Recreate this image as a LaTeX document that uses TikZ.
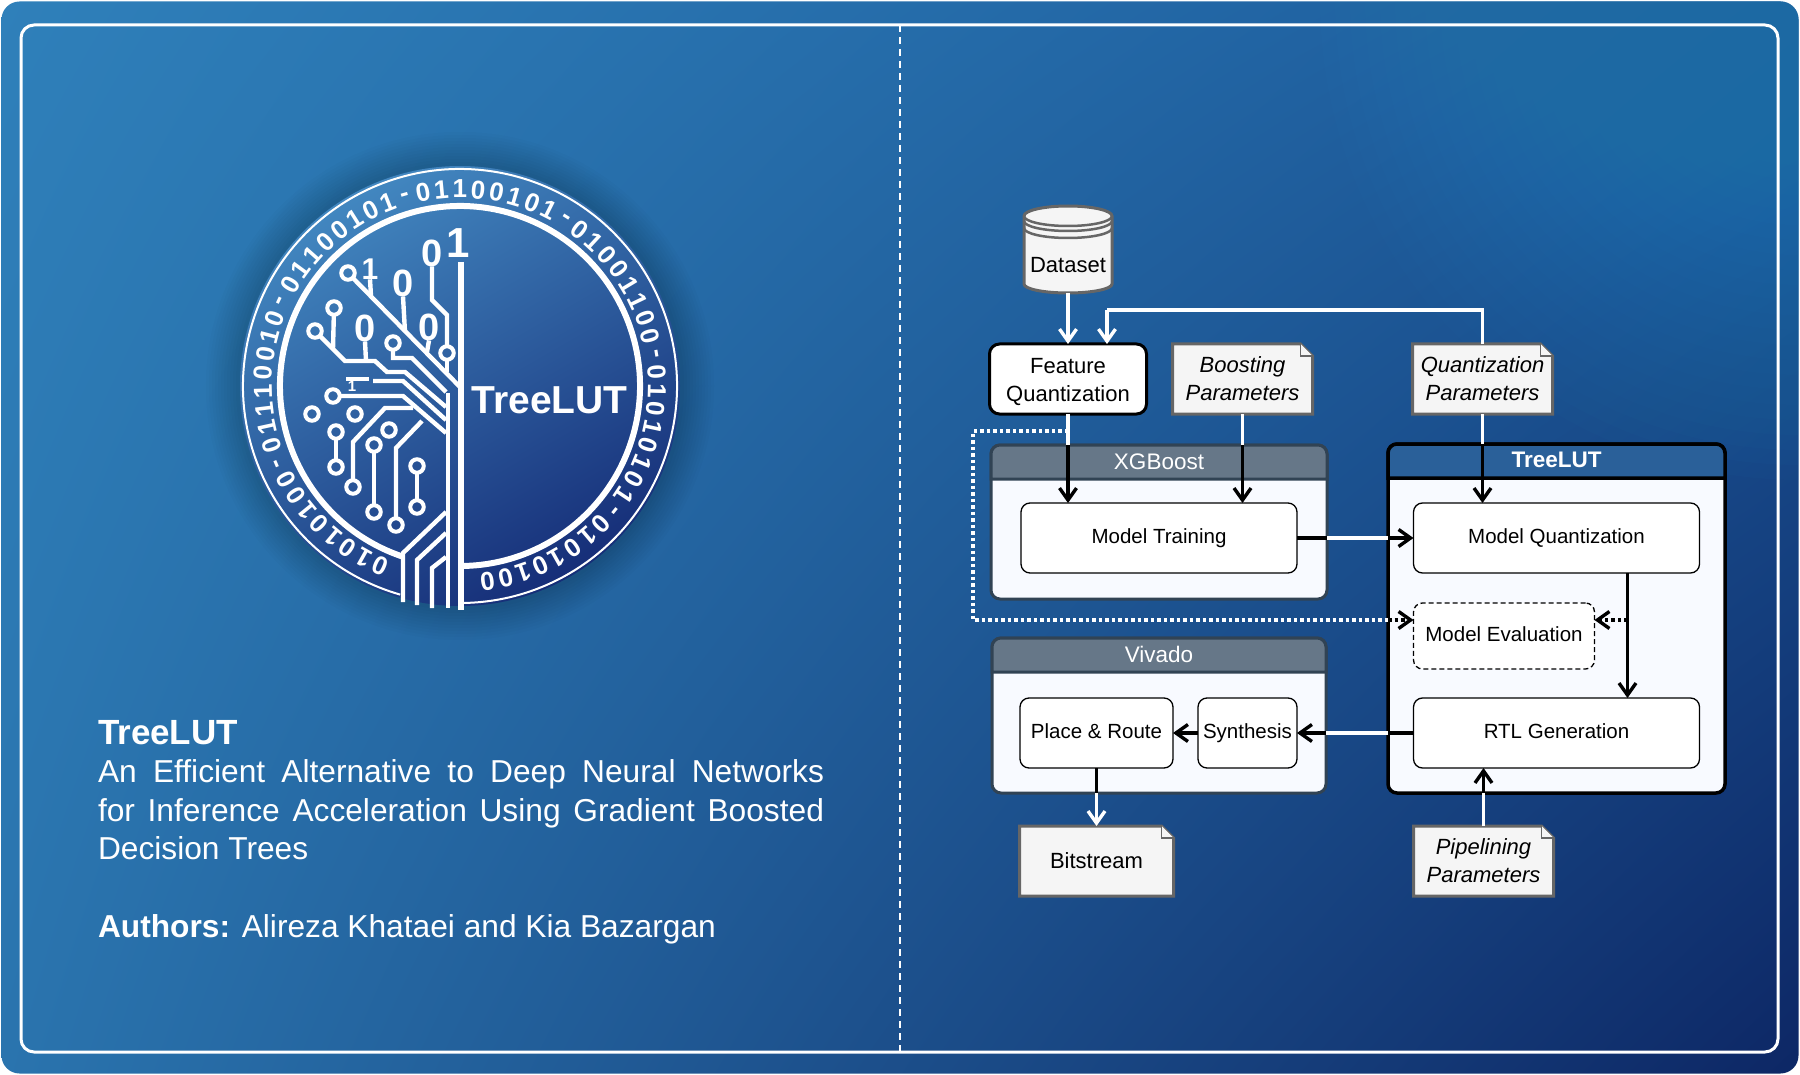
\documentclass[tikz,border=0pt]{standalone}
\usepackage{fontspec}
\setmainfont{Liberation Sans}
\usepackage{tikz}
\usetikzlibrary{shapes.geometric,arrows.meta,positioning,calc,shadings}

\definecolor{slatehead}{HTML}{667788}
\definecolor{slateline}{HTML}{314354}
\definecolor{lutblue}{HTML}{2A6099}
\definecolor{panelfill}{HTML}{F8FAFF}
\definecolor{notefill}{HTML}{F5F5F5}
\definecolor{noteline}{HTML}{666666}
\definecolor{bgul}{HTML}{2F80BA}
\definecolor{bgur}{HTML}{1C5A9B}
\definecolor{bgll}{HTML}{2A74AE}
\definecolor{bglr}{HTML}{0D2765}
\definecolor{bgglow}{HTML}{2A82BC}
\definecolor{disclight}{HTML}{4287C0}
\definecolor{discdark}{HTML}{162E78}

\newcommand{\px}[2]{\fontsize{#1}{#2}\selectfont}
\newcommand{\headband}[2]{%
  \draw[#2] ([yshift=-34pt]#1.north west) [rounded corners=9pt] -- (#1.north west)
    -- (#1.north east) [sharp corners] -- ([yshift=-34pt]#1.north east) -- cycle;}

\tikzset{
  every node/.style={outer sep=0pt},
  panel/.style={draw, rounded corners=9pt, fill=panelfill},
  proc/.style={draw=black, line width=1.3pt, rounded corners=9pt, fill=white, align=center,
    minimum height=70pt, text height=15pt, text depth=4pt, font=\px{20.5}{25}},
  notebox/.style={minimum width=140pt, minimum height=70pt, inner sep=0pt},
  notetext/.style={align=center, inner sep=0pt, font=\px{22}{28}\itshape},
  headtext/.style={text=white, text height=16pt, text depth=2pt, font=\px{22.5}{27}},
  wline/.style={draw=white, line width=3.8pt},
  bline/.style={draw=black, line width=3.8pt},
  wdots/.style={wline, dash pattern=on 3.5pt off 3pt},
  bdots/.style={bline, dash pattern=on 3.5pt off 3pt},
  tip/.style={-{Straight Barb[length=12pt,width=17pt,line width=3.4pt]}},
  trace/.style={draw=white, line width=4.4pt, line join=miter},
  pad/.style={circle, draw=white, line width=4pt, minimum size=13.5pt, inner sep=0pt},
  bit/.style={text=white, inner sep=0pt, font=\px{#1}{#1}\bfseries},
  ringbit/.style={text=white, inner sep=0pt, font=\px{26}{26}\bfseries},
}

\begin{document}
\begin{tikzpicture}[x=1pt, y=-1pt]
  \useasboundingbox (0,0) rectangle (1800,1075);

  % Background
  \begin{scope}
    \clip[rounded corners=18pt] (1.5,1.5) rectangle (1798.5,1073.5);
    \shade[upper left=bgul, upper right=bgur, lower left=bgll, lower right=bglr] (0,0) rectangle (1800,1075);
    \foreach \r in {15,30,...,480}
      \fill[bgglow, opacity=0.04] (1800,0) circle[radius=\r pt];
  \end{scope}
  \node (frame) [draw=white, line width=3pt, rounded corners=13pt, minimum width=1757pt,
    minimum height=1027pt] at (899.5,538.5) {};
  \draw[white, line width=2pt, dash pattern=on 7pt off 5pt] (frame.north -| 900,0) -- (frame.south -| 900,0);

  % Logo disc
  \coordinate (logo) at (460,386);
  \foreach \r in {224,227,...,254}
    \fill[black, opacity=0.014] (logo) circle[radius=\r pt];
  \shade[left color=disclight, right color=discdark, shading angle=30]
    (logo) circle[radius=220pt];
  \draw[white, line width=2pt] ($(logo)+(254:217pt)$) arc[start angle=254, end angle=-90, radius=217pt];
  \draw[white, line width=6pt] ($(logo)+(251.5:180pt)$) arc[start angle=251.5, end angle=-90, radius=180pt];
  \foreach \c [count=\i from 0] in {0,1,0,1,0,1,0,0,-,0,1,1,1,0,0,1,0,-,0,1,1,0,0,1,0,1,-,0,1,1,0,0,1,0,1,-,0,1,0,0,1,1,0,0,-,0,1,0,1,0,1,0,1,-,0,1,0,1,0,1,0,0} {
    \pgfmathsetmacro{\ang}{246-\i*5.377}
    \pgfmathsetmacro{\tilt}{\ang-90}
    \node[ringbit, rotate=\tilt] at ($(logo)+(\ang:197pt)$) {\c};
  }

  % Logo tree
  \draw[white, line width=5.5pt] (461,262) -- (461,610);
  \draw[white, line width=4.5pt] (448,393) -- (448,608);
  \node (bitA) [bit=42] at (458,243) {1};
  \node (bitB) [bit=38] at (432,253) {0};
  \node (bitC) [bit=38] at (403,283) {0};
  \node (bitD) [bit=30] at (370,269) {1};
  \node (bitE) [bit=38] at (429,327) {0};
  \node (bitF) [bit=38] at (365,328) {0};
  \node (bitG) [bit=15] at (352,386) {1};
  \node (padA) [pad] at (348,273) {};
  \node (padB) [pad] at (447,353) {};
  \node (padC) [pad] at (393,343) {};
  \node (padD) [pad] at (315,331) {};
  \node (padE) [pad] at (334,308) {};
  \node (padF) [pad] at (333,396) {};
  \node (padG) [pad] at (353,487) {};
  \node (padH) [pad] at (396,525) {};
  \node (padI) [pad] at (374,445) {};
  \node (padJ) [pad] at (374,512) {};
  \node (padK) [pad] at (389,430) {};
  \node (padL) [pad] at (336,432) {};
  \node (padM) [pad] at (336,467) {};
  \node (padN) [pad] at (312,414) {};
  \node (padO) [pad] at (355,414) {};
  \node (padP) [pad] at (417,466) {};
  \node (padQ) [pad] at (417,507) {};
  \draw[trace] (padA) -- (461,388);
  \draw[trace] (bitD.south) -- (371,296);
  \draw[trace] (bitC.south) -- (405,332);
  \draw[trace] (bitB.south) -- (432,300) -- (447,315) -- (padB);
  \draw[trace] (padB) -- (447,372);
  \draw[trace] (bitE.south) -- (427,352);
  \draw[trace] (padC) -- (393,358) -- (412,358) -- (446,392);
  \draw[trace] (padD) -- (345,361) -- (375,361) -- (387,372) -- (405,372) -- (446,407);
  \draw[trace] (padE) -- (333,349);
  \draw[trace] (bitF.south) -- (366,361);
  \draw[trace] (346,379) -- (369,379);
  \draw[trace] (373,381) -- (403,381) -- (446,420);
  \draw[trace] (padF) -- (403,396) -- (446,433);
  \draw[trace] (padG) -- (353,442) -- (385,408) -- (413,408);
  \draw[trace] (padH) -- (396,448) -- (422,421);
  \draw[trace] (padI) -- (padJ);
  \draw[trace] (padL) -- (padM);
  \draw[trace] (padP) -- (padQ);
  \draw[trace] (403,602) -- (403,553) -- (446,512);
  \draw[trace] (417,605) -- (417,560) -- (446,533);
  \draw[trace] (432,608) -- (432,568) -- (446,557);
  \node (logoname) [text=white, font=\px{39}{39}\bfseries] at (549.5,400) {TreeLUT};

  % Text block
  \node (title) [anchor=north west, inner sep=0pt, text=white, font=\px{35}{40}\bfseries] at (98,720) {TreeLUT};
  \node (abstract) [below right=15.5pt and 0pt of title.south west, inner sep=0pt, text=white,
    text width=726pt, align=justify, font=\px{31.7}{38.5}]
    {An Efficient Alternative to Deep Neural Networks\linebreak for Inference Acceleration Using Gradient Boosted\linebreak Decision Trees};
  \node (authors) [below right=54pt and 0pt of abstract.south west, inner sep=0pt, text=white, font=\px{31.7}{38.5}]
    {\textbf{Authors:} Alireza Khataei and Kia Bazargan};

  % Top row
  \node (ds) [minimum width=88pt, minimum height=87pt, inner sep=0pt] at (1068,249.5) {};
  \draw[noteline, line width=3pt, fill=notefill] ($(ds.north west)+(0pt,-10pt)$)
    arc[start angle=180, end angle=0, x radius=44pt, y radius=10pt]
    -- ($(ds.south east)+(0pt,9pt)$)
    arc[start angle=0, end angle=-180, x radius=44pt, y radius=9pt] -- cycle;
  \foreach \h in {10,15,22}
    \draw[noteline, line width=2.5pt] ($(ds.north west)+(0pt,-\h pt)$)
      arc[start angle=180, end angle=360, x radius=44pt, y radius=10pt];
  \node (dstext) [font=\px{22}{27}] at (1068,265) {Dataset};
  \node (fq) [below=51pt of ds, draw=black, line width=3pt, rounded corners=10pt, fill=white, align=center,
    minimum width=157pt, minimum height=70pt, font=\px{22}{28}] {\rule{0pt}{20.5pt}Feature\\Quantization};
  \node (boost) [notebox, right=26pt of fq] {};
  \node (quant) [notebox, right=100pt of boost] {};

  % XGBoost
  \node (xgb) [panel, draw=slateline, line width=3pt, minimum width=336pt, minimum height=154pt] at (1159,522) {};
  \headband{xgb}{draw=slateline, line width=3pt, fill=slatehead}
  \node (xgbhead) [headtext] at ($(xgb.north)+(0,-17pt)$) {XGBoost};
  \node (train) [proc, minimum width=276pt, below=58pt of xgb.north] {Model Training};

  % TreeLUT
  \node (lut) [panel, draw=black, line width=3.5pt, minimum width=337pt, minimum height=349pt] at (1556.5,618.5) {};
  \headband{lut}{draw=black, line width=3.5pt, fill=lutblue}
  \node (luthead) [headtext, font=\px{22.5}{27}\bfseries] at ($(lut.north)+(0,-16pt)$) {TreeLUT};
  \node (mq) [proc, minimum width=286pt, below=59pt of lut.north] {Model Quantization};
  \node (meval) [proc, dash pattern=on 5pt off 3pt, minimum width=181pt, minimum height=66pt,
    below right=30pt and 0pt of mq.south west] {Model Evaluation};
  \node (rtl) [proc, minimum width=286pt, below=125pt of mq] {RTL Generation};

  % Vivado
  \node (viv) [panel, draw=slateline, line width=3pt, minimum width=334pt, minimum height=155pt] at (1159,715.5) {};
  \headband{viv}{draw=slateline, line width=3pt, fill=slatehead}
  \node (vivhead) [headtext] at ($(viv.north)+(0,-17pt)$) {Vivado};
  \node (pnr) [proc, minimum width=153pt, below right=60pt and 28pt of viv.north west] {Place \& Route};
  \node (syn) [proc, minimum width=99pt, right=25pt of pnr] {Synthesis};

  % Outputs and note outlines
  \node (bits) [notebox, minimum width=154pt, below=58pt of pnr] {};
  \node (pipe) [notebox, below right=58pt and 0pt of rtl.south west] {};
  \foreach \n/\t in {boost/{Boosting\\Parameters},quant/{Quantization\\Parameters},
                     pipe/{Pipelining\\Parameters},bits/{\upshape Bitstream}} {
    \draw[noteline, line width=3pt, fill=notefill, line join=miter] (\n.north west)
      -- ([xshift=-12pt]\n.north east) -- ([yshift=-12pt]\n.north east)
      -- (\n.south east) -- (\n.south west) -- cycle;
    \draw[noteline, line width=1.5pt, fill=notefill] ([xshift=-12pt]\n.north east)
      -- ([xshift=-12pt,yshift=-12pt]\n.north east) -- ([yshift=-12pt]\n.north east);
    \node (\n-text) [notetext] at (\n) {\t};
  }

  % Arrows
  \draw[wline, tip] (ds) -- (fq);
  \coordinate (fbk) at (1107,310);
  \draw[wline] (quant.north) -- (quant.north |- fbk) -- (fbk);
  \draw[wline, tip] (fbk) -- (fbk |- fq.north);
  \draw[wline] (fq.south) -- (fq.south |- xgb.north);
  \draw[bline, tip] (fq.south |- xgb.north) -- (fq.south |- train.north);
  \draw[wline] (boost.south) -- (boost.south |- xgb.north);
  \draw[bline, tip] (boost.south |- xgb.north) -- (boost.south |- train.north);
  \draw[wline] (quant.south) -- (quant.south |- lut.north);
  \draw[bline, tip] (quant.south |- lut.north) -- (quant.south |- mq.north);
  \draw[bline] (train.east) -- (train.east -| xgb.east);
  \draw[wline] (train.east -| xgb.east) -- (train.east -| lut.west);
  \draw[bline, tip] (train.east -| lut.west) -- (train.east -| mq.west);
  \draw[bline, tip] ([xshift=71pt]mq.south) -- ([xshift=71pt]rtl.north);
  \coordinate (mqrtl) at ([xshift=71pt]mq.south |- 0,620);
  \draw[bdots, tip] (mqrtl) -- ([yshift=16pt]meval.east);
  \coordinate (dotsa) at (973,431);
  \coordinate (dotsb) at (973,620);
  \draw[wdots] (fq.south |- dotsa) -- (dotsa) -- (dotsb) -- (lut.west |- dotsb);
  \draw[bdots, tip] (lut.west |- dotsb) -- ([yshift=16pt]meval.west);
  \draw[bline] (rtl.west) -- (rtl.west -| lut.west);
  \draw[wline] (rtl.west -| lut.west) -- (rtl.west -| viv.east);
  \draw[bline, tip] (rtl.west -| viv.east) -- (syn.east);
  \draw[bline, tip] (syn.west) -- (pnr.east);
  \draw[bline] (pnr.south) -- (pnr.south |- viv.south);
  \draw[wline, tip] (pnr.south |- viv.south) -- (bits.north);
  \draw[wline] (pipe.north) -- (pipe.north |- lut.south);
  \draw[bline, tip] (pipe.north |- lut.south) -- (pipe.north |- rtl.south);
\end{tikzpicture}
\end{document}
